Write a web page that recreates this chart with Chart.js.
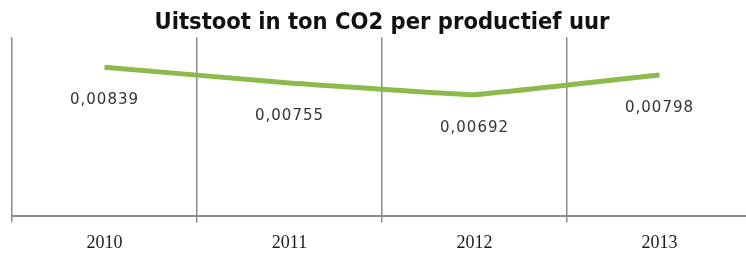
<html>
    <head>
        <script src="https://cdn.jsdelivr.net/npm/chart.js"></script>
        <style>
            body { margin: 0; overflow: hidden; background: #fff; }
        </style>
    </head>
    <body>
        <!-- canvas runs a bit past the window on the right and bottom, like the cropped original -->
        <div style="width: 760px; height: 264px">
            <canvas id="co2Chart" width="760" height="264"></canvas>
        </div>

        <script>
            const YEARS = ['2010', '2011', '2012', '2013']
            const CO2_PER_HOUR = [0.00839, 0.00755, 0.00692, 0.00798]
            const VALUE_LABELS = ['0,00839', '0,00755', '0,00692', '0,00798']

            const LINE_GREEN = '#8dba4b'
            const GRID_GRAY = '#8c8c8c'

            // labels sit under each point, like the original
            const valueLabels = {
                id: 'valueLabels',
                afterDatasetsDraw(chart) {
                    const ctx = chart.ctx
                    const meta = chart.getDatasetMeta(0)
                    ctx.save()
                    ctx.font = '15px "DejaVu Sans", Verdana, sans-serif'
                    ctx.letterSpacing = '1px'
                    ctx.fillStyle = '#333'
                    ctx.textAlign = 'center'
                    ctx.textBaseline = 'middle'
                    meta.data.forEach((pt, idx) => {
                        ctx.fillText(VALUE_LABELS[idx], pt.x, pt.y + 33)
                    })
                    ctx.restore()
                },
            }

            new Chart(document.getElementById('co2Chart'), {
                type: 'line',
                data: {
                    labels: YEARS,
                    datasets: [
                        {
                            label: 'Uitstoot',
                            data: CO2_PER_HOUR,
                            borderColor: LINE_GREEN,
                            backgroundColor: LINE_GREEN,
                            borderWidth: 5,
                            pointRadius: 0,
                            tension: 0.05,
                        },
                    ],
                },
                options: {
                    responsive: false,
                    animation: false,
                    layout: { padding: { left: 12, right: 8, top: 9, bottom: 0 } },
                    plugins: {
                        legend: { display: false },
                        tooltip: { enabled: false },
                        title: {
                            display: true,
                            text: 'Uitstoot in ton CO2 per productief uur',
                            color: '#111',
                            font: { family: '"DejaVu Sans Condensed", "DejaVu Sans", sans-serif', size: 23.5, weight: 'bold' },
                            padding: { top: 0, bottom: 0 },
                        },
                    },
                    scales: {
                        x: {
                            offset: true,
                            grid: {
                                offset: true,
                                color: GRID_GRAY,
                                lineWidth: 1.5,
                                tickLength: 6,
                            },
                            border: { display: true, color: GRID_GRAY, width: 2 },
                            ticks: {
                                color: '#1a1a1a',
                                padding: 10,
                                font: { family: '"Liberation Serif", serif', size: 18 },
                            },
                        },
                        y: {
                            display: false,
                            min: 0.0004,
                            max: 0.01,
                        },
                    },
                },
                plugins: [valueLabels],
            })
        </script>
    </body>
</html>
